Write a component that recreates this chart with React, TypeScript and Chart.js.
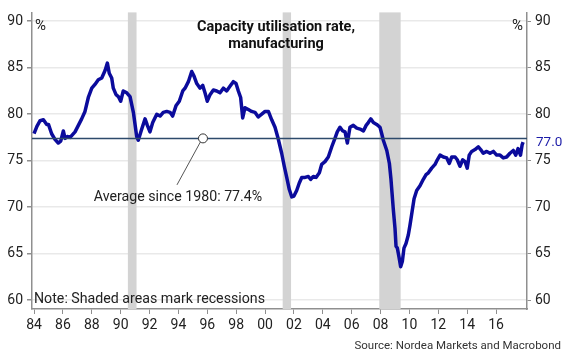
import React, { useEffect, useRef } from "react";
import { Chart, registerables } from "chart.js";

Chart.register(...registerables);

const years = [
  1984.0, 1984.2, 1984.42, 1984.65, 1984.88, 1985.0, 1985.22, 1985.45, 1985.68, 1985.85,
  1986.03, 1986.15, 1986.3, 1986.5, 1986.84, 1987.07, 1987.3, 1987.53, 1987.76, 1988.0,
  1988.22, 1988.45, 1988.69, 1988.92, 1989.08, 1989.21, 1989.38, 1989.49, 1989.68, 1989.84,
  1990.0, 1990.18, 1990.42, 1990.65, 1990.88, 1991.11, 1991.22, 1991.46, 1991.69, 1991.85,
  1992.03, 1992.22, 1992.5, 1992.73, 1992.95, 1993.19, 1993.42, 1993.6, 1993.83, 1994.06,
  1994.3, 1994.46, 1994.69, 1994.92, 1995.08, 1995.27, 1995.5, 1995.68, 1995.84, 1996.0,
  1996.19, 1996.42, 1996.65, 1996.88, 1997.11, 1997.34, 1997.57, 1997.8, 1997.99, 1998.15,
  1998.31, 1998.45, 1998.61, 1998.84, 1999.07, 1999.3, 1999.53, 1999.77, 2000.0, 2000.23,
  2000.46, 2000.69, 2000.92, 2001.15, 2001.33, 2001.5, 2001.68, 2001.85, 2002.0, 2002.19,
  2002.37, 2002.54, 2002.77, 2003.0, 2003.16, 2003.34, 2003.53, 2003.76, 2003.92, 2004.15,
  2004.38, 2004.62, 2004.84, 2005.0, 2005.19, 2005.38, 2005.54, 2005.7, 2005.88, 2006.11,
  2006.35, 2006.58, 2006.81, 2007.0, 2007.15, 2007.32, 2007.5, 2007.73, 2007.96, 2008.08,
  2008.19, 2008.43, 2008.61, 2008.72, 2008.79, 2008.88, 2009.0, 2009.07, 2009.16, 2009.28,
  2009.39, 2009.51, 2009.62, 2009.76, 2009.92, 2010.04, 2010.18, 2010.32, 2010.5, 2010.73,
  2010.96, 2011.15, 2011.31, 2011.54, 2011.77, 2011.93, 2012.12, 2012.35, 2012.58, 2012.76,
  2012.93, 2013.16, 2013.31, 2013.5, 2013.69, 2013.85, 2014.0, 2014.14, 2014.31, 2014.54,
  2014.77, 2014.93, 2015.11, 2015.35, 2015.58, 2015.81, 2016.04, 2016.27, 2016.5, 2016.73,
  2016.96, 2017.19, 2017.36, 2017.52, 2017.69, 2017.8, 2017.87,
];

const utilisation = [
  77.9, 78.7, 79.3, 79.4, 78.9, 78.9, 77.9, 77.3, 76.9, 77.1,
  78.2, 77.4, 77.6, 77.5, 78.1, 78.8, 79.5, 80.3, 81.8, 82.8,
  83.2, 83.7, 83.9, 84.7, 85.5, 84.4, 83.9, 82.8, 82.1, 81.9,
  81.4, 82.5, 82.3, 81.9, 80.2, 77.6, 77.2, 78.4, 79.5, 78.8,
  78.1, 79.1, 80.0, 79.8, 80.2, 80.3, 80.2, 79.8, 80.9, 81.4,
  82.5, 82.8, 83.5, 84.6, 84.1, 83.3, 82.8, 83.1, 82.3, 81.4,
  82.1, 82.6, 82.5, 82.3, 82.8, 82.5, 83.0, 83.5, 83.3, 82.5,
  81.8, 79.6, 80.7, 80.5, 80.3, 80.2, 79.7, 80.0, 80.3, 80.3,
  79.4, 78.6, 77.3, 75.8, 74.4, 73.2, 71.9, 71.1, 71.2, 71.8,
  72.6, 73.2, 73.2, 73.3, 73.0, 73.3, 73.2, 73.7, 74.6, 74.9,
  75.4, 76.5, 77.4, 78.1, 78.6, 78.2, 78.1, 76.9, 78.6, 78.8,
  78.5, 78.4, 78.2, 78.8, 79.1, 79.5, 79.1, 78.9, 78.6, 77.9,
  77.2, 76.1, 74.7, 73.0, 71.6, 69.8, 67.7, 65.8, 65.6, 64.6,
  63.6, 64.2, 65.6, 66.1, 67.0, 68.1, 69.5, 70.9, 71.8, 72.3,
  73.0, 73.5, 73.7, 74.2, 74.6, 75.1, 75.6, 75.4, 75.3, 74.7,
  75.4, 75.4, 75.1, 74.4, 75.1, 74.9, 74.2, 75.6, 76.0, 76.2,
  76.5, 76.2, 75.8, 76.0, 75.8, 76.0, 75.6, 75.6, 75.3, 75.4,
  75.8, 76.1, 75.6, 76.3, 75.6, 76.7, 77.0,
];

const recessionStarts = [1990.5, 2001.22, 2007.91];
const recessionEnds = [1991.1, 2001.8, 2009.39];

const averageValue = 77.4;
const averageLabel = "Average since 1980: 77.4%";
const lastValueLabel = "77.0";

const xTicks = [1984, 1986, 1988, 1990, 1992, 1994, 1996, 1998, 2000, 2002, 2004, 2006, 2008, 2010, 2012, 2014, 2016];
const yTicks = [60, 65, 70, 75, 80, 85, 90];

const xMin = 1983.86;
const xMax = 2018.14;
const yMin = 59.05;
const yMax = 90.95;

const FONT = "Roboto, 'Open Sans', sans-serif";
const LINE_COLOR = "#0b0b9c";
const AVG_COLOR = "#2d4a6b";
const AXIS_COLOR = "#8f8f8f";

const recessionPlugin = {
  id: "recessions",
  beforeDatasetsDraw(chart: any) {
    const { ctx, chartArea, scales } = chart;
    const x = scales.x;
    ctx.save();
    ctx.fillStyle = "#d3d3d3";
    for (let i = 0; i < recessionStarts.length; i++) {
      const x0 = x.getPixelForValue(recessionStarts[i]);
      const x1 = x.getPixelForValue(recessionEnds[i]);
      ctx.fillRect(x0, chartArea.top, x1 - x0, chartArea.bottom - chartArea.top);
    }
    ctx.restore();
  },
};

const annotationPlugin = {
  id: "annotations",
  afterDatasetsDraw(chart: any) {
    const { ctx, chartArea, scales } = chart;
    const x = scales.x;
    const y = scales.yLeft;
    ctx.save();
    const cx = x.getPixelForValue(1995.7);
    const cy = y.getPixelForValue(averageValue);
    const lx = x.getPixelForValue(1993.9);
    const ly = y.getPixelForValue(72.4);
    ctx.strokeStyle = "#555";
    ctx.lineWidth = 1;
    ctx.beginPath();
    ctx.moveTo(lx, ly);
    ctx.lineTo(cx - 2.5, cy + 3.5);
    ctx.stroke();
    ctx.beginPath();
    ctx.arc(cx, cy, 4.5, 0, Math.PI * 2);
    ctx.fillStyle = "#ffffff";
    ctx.fill();
    ctx.strokeStyle = "#333";
    ctx.stroke();

    ctx.fillStyle = "#222";
    ctx.font = `14.2px ${FONT}`;
    ctx.textAlign = "center";
    ctx.textBaseline = "middle";
    ctx.fillText(averageLabel, lx + 1, y.getPixelForValue(71.05));

    ctx.font = `bold 14.5px ${FONT}`;
    ctx.fillStyle = "#111";
    ctx.fillText("Capacity utilisation rate,", 276, 27);
    ctx.fillText("manufacturing", 276, 44);

    ctx.font = `15px ${FONT}`;
    ctx.fillStyle = "#222";
    ctx.textAlign = "left";
    ctx.fillText("%", chartArea.left + 3, 26);
    ctx.textAlign = "right";
    ctx.fillText("%", chartArea.right - 4, 26);

    ctx.textAlign = "left";
    ctx.font = `14.2px ${FONT}`;
    ctx.fillText("Note: Shaded areas mark recessions", chartArea.left + 2, 299);

    ctx.textAlign = "right";
    ctx.font = `11.5px ${FONT}`;
    ctx.fillStyle = "#333";
    ctx.fillText("Source: Nordea Markets and Macrobond", 561, 346);

    ctx.textAlign = "left";
    ctx.font = `13.5px ${FONT}`;
    ctx.fillStyle = "#1c1ca8";
    ctx.fillText(lastValueLabel, chartArea.right + 9, y.getPixelForValue(Number(lastValueLabel)) + 1);
    ctx.restore();
  },
};

export default function App() {
  const canvasRef = useRef<HTMLCanvasElement | null>(null);

  useEffect(() => {
    document.body.style.margin = "0";
    const canvas = canvasRef.current;
    if (!canvas) return;
    const lineData = years.map((yr, i) => ({ x: yr, y: utilisation[i] }));
    const avgData = [
      { x: xMin, y: averageValue },
      { x: xMax, y: averageValue },
    ];
    const tickFont = { family: FONT, size: 14 };
    const chart = new Chart(canvas, {
      type: "line",
      data: {
        datasets: [
          {
            data: avgData,
            borderColor: AVG_COLOR,
            borderWidth: 1.5,
            pointRadius: 0,
            yAxisID: "yLeft",
          },
          {
            data: lineData,
            borderColor: LINE_COLOR,
            borderWidth: 3.5,
            pointRadius: 0,
            tension: 0,
            borderJoinStyle: "round",
            yAxisID: "yLeft",
          },
        ],
      },
      options: {
        animation: false,
        responsive: false,
        events: [],
        layout: { padding: { top: 6, left: 0, right: 0, bottom: 0 } },
        plugins: {
          legend: { display: false },
          tooltip: { enabled: false },
          title: { display: false },
        },
        scales: {
          x: {
            type: "linear",
            min: xMin,
            max: xMax,
            afterBuildTicks: (s: any) => {
              s.ticks = xTicks.map((v) => ({ value: v }));
            },
            afterFit: (s: any) => {
              s.height = 51;
            },
            ticks: {
              font: tickFont,
              color: "#222",
              padding: 3,
              maxRotation: 0,
              autoSkip: false,
              callback: (v: any) => String(Math.round(v) % 100).padStart(2, "0"),
            },
            grid: {
              drawOnChartArea: false,
              tickLength: 5,
              tickColor: AXIS_COLOR,
            },
            border: { color: AXIS_COLOR, width: 1.5 },
          },
          yLeft: {
            type: "linear",
            position: "left",
            min: yMin,
            max: yMax,
            afterBuildTicks: (s: any) => {
              s.ticks = yTicks.map((v) => ({ value: v }));
            },
            afterFit: (s: any) => {
              s.width = 32;
            },
            ticks: { font: tickFont, color: "#222", padding: 4 },
            grid: {
              color: "#e9e9e9",
              lineWidth: 1.5,
              tickLength: 5,
              tickColor: AXIS_COLOR,
            },
            border: { color: AXIS_COLOR, width: 1.5 },
          },
          yRight: {
            type: "linear",
            position: "right",
            min: yMin,
            max: yMax,
            afterBuildTicks: (s: any) => {
              s.ticks = yTicks.map((v) => ({ value: v }));
            },
            afterFit: (s: any) => {
              s.width = 43;
            },
            ticks: { font: tickFont, color: "#222", padding: 4 },
            grid: {
              drawOnChartArea: false,
              tickLength: 4,
              tickColor: AXIS_COLOR,
            },
            border: { color: AXIS_COLOR, width: 1.5 },
          },
        },
      },
      plugins: [recessionPlugin, annotationPlugin],
    } as any);
    return () => chart.destroy();
  }, []);

  return (
    <div style={{ width: 570, height: 360, background: "#fff" }}>
      <canvas ref={canvasRef} width={570} height={360} />
    </div>
  );
}
